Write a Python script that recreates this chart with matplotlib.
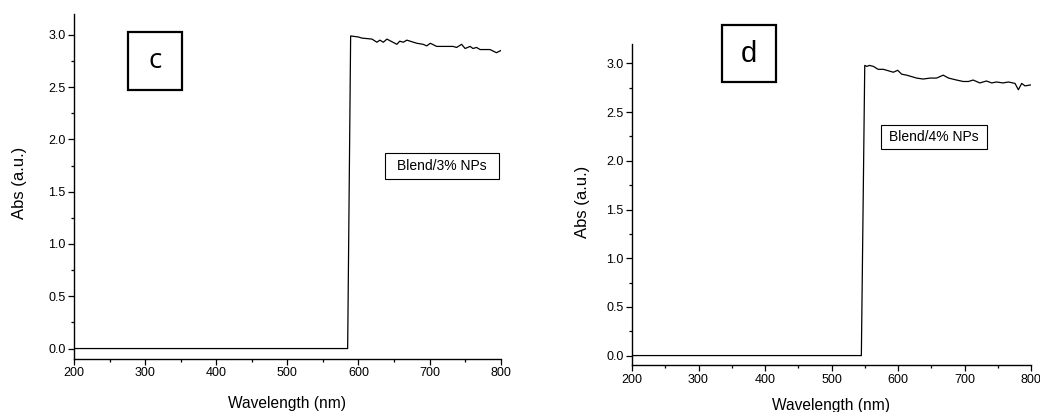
import matplotlib
matplotlib.use("Agg")
import matplotlib.pyplot as plt
from matplotlib.patches import Rectangle
from matplotlib.ticker import MultipleLocator

plt.rcParams['font.family'] = ['Liberation Sans', 'DejaVu Sans']

# Panel c: Blend/3% NPs
wl_c = [200, 584.8, 589, 600, 604.5, 619, 626, 630, 635, 640, 654, 658, 663, 668, 682,
        691, 696, 701, 710, 724, 733, 738, 745, 750, 757, 761, 766, 771, 785, 794, 800]
abs_c = [0.0, 0.0, 2.99, 2.98, 2.97, 2.96, 2.93, 2.95, 2.93, 2.96, 2.91, 2.94, 2.93, 2.95, 2.92,
         2.91, 2.895, 2.92, 2.89, 2.89, 2.89, 2.88, 2.91, 2.87, 2.89, 2.87, 2.88, 2.86, 2.86, 2.83, 2.85]

# Panel d: Blend/4% NPs
wl_d = [200, 544.9, 550, 553, 557, 563, 570, 578, 588, 593, 599.5, 605.5, 613, 628, 638, 648,
        658, 668, 676, 688, 698, 706, 713, 723, 733, 741, 748, 758, 766, 776, 781, 786, 791, 800]
abs_d = [0.0, 0.0, 2.98, 2.97, 2.98, 2.97, 2.94, 2.94, 2.92, 2.91, 2.93, 2.89, 2.88, 2.85, 2.84, 2.85,
         2.85, 2.88, 2.85, 2.83, 2.815, 2.815, 2.83, 2.80, 2.82, 2.80, 2.81, 2.80, 2.81, 2.795, 2.73, 2.795, 2.77, 2.78]

panel_letters = ["c", "d"]
legend_labels = ["Blend/3% NPs", "Blend/4% NPs"]
x_ticks = [200, 300, 400, 500, 600, 700, 800]
y_ticks = [0.0, 0.5, 1.0, 1.5, 2.0, 2.5, 3.0]

W, H = 1040, 412
fig = plt.figure(figsize=(W / 100, H / 100), dpi=100)

def fx(px):
    return px / W

def fy(py):
    return 1 - py / H

ax_c = fig.add_axes([fx(74), fy(359), fx(500.7 - 74), (359 - 14) / H])
ax_d = fig.add_axes([fx(632), fy(365.3), fx(1031 - 632), (365.3 - 44) / H])

for ax, wl, ab in [(ax_c, wl_c, abs_c), (ax_d, wl_d, abs_d)]:
    ax.plot(wl, ab, color='black', lw=0.9)
    ax.set_xlim(200, 800)
    ax.set_ylim(-0.1, 3.2)
    ax.set_xticks(x_ticks)
    ax.set_yticks(y_ticks)
    ax.set_yticklabels([f"{v:.1f}" for v in y_ticks])
    ax.xaxis.set_minor_locator(MultipleLocator(50))
    ax.yaxis.set_minor_locator(MultipleLocator(0.25))
    for s in ['top', 'right']:
        ax.spines[s].set_visible(False)
    for s in ['left', 'bottom']:
        ax.spines[s].set_linewidth(1.0)
    ax.tick_params(which='major', direction='out', length=4, width=0.9, labelsize=9, pad=2)
    ax.tick_params(which='minor', direction='out', length=2.2, width=0.9)
    ax.set_xlabel("Wavelength (nm)", fontsize=11.2)
    ax.set_ylabel("Abs (a.u.)", fontsize=12)
    ax.patch.set_visible(False)

ax_c.yaxis.set_label_coords(-0.127, 0.51)
ax_c.xaxis.set_label_coords(0.499, -0.128)
ax_c.xaxis.label.set_va('center')
ax_c.yaxis.label.set_va('center')
ax_d.yaxis.set_label_coords(-0.125, 0.508)
ax_d.xaxis.set_label_coords(0.5, -0.124)
ax_d.xaxis.label.set_va('center')
ax_d.yaxis.label.set_va('center')

# panel letter boxes
boxes = [(128, 32, 182, 90, ['Open Sans', 'DejaVu Sans'], 20, 'medium', 1.6),
         (722, 25, 776, 82, ['Liberation Sans', 'DejaVu Sans'], 21, 'normal', 1.6)]
for (x0, y0, x1, y1, fam, fs, wt, lw), letter in zip(boxes, panel_letters):
    fig.patches.append(Rectangle((fx(x0), fy(y1)), fx(x1 - x0), (y1 - y0) / H,
                                 transform=fig.transFigure, fill=False, ec='black', lw=lw))
    fig.text(fx((x0 + x1) / 2), fy((y0 + y1) / 2), letter, ha='center', va='center',
             fontsize=fs, family=fam, weight=wt)

# legend label boxes
lboxes = [(385, 153, 499, 179), (881, 125, 987, 149)]
for (x0, y0, x1, y1), lab in zip(lboxes, legend_labels):
    fig.patches.append(Rectangle((fx(x0), fy(y1)), fx(x1 - x0), (y1 - y0) / H,
                                 transform=fig.transFigure, fill=False, ec='black', lw=0.8))
    fig.text(fx((x0 + x1) / 2), fy((y0 + y1) / 2), lab, ha='center', va='center', fontsize=10)

fig.savefig("out.png", dpi=100)
